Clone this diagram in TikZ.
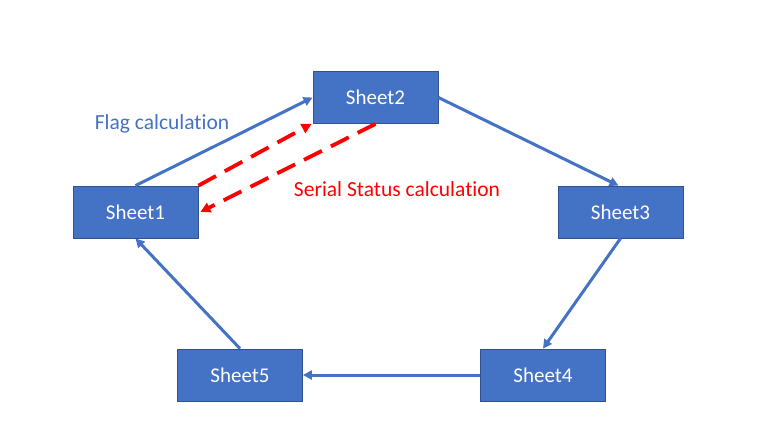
\documentclass[tikz,border=0pt]{standalone}
\usepackage{fontspec}
\setmainfont{Carlito}[RawFeature={-liga;-dlig;-calt}]
\usetikzlibrary{arrows.meta}
\definecolor{boxfill}{HTML}{4472C4}
\definecolor{boxedge}{HTML}{2F528F}
\definecolor{flowblue}{HTML}{4472C4}
\definecolor{flowred}{HTML}{FF0000}
\tikzset{
  sheetbox/.style={rectangle, fill=boxfill, draw=boxedge, line width=0.8pt,
    minimum width=125pt, minimum height=52pt, inner sep=0pt,
    text=white, font=\fontsize{21}{24}\selectfont},
  flow/.style={draw=flowblue, line width=3pt, -{Triangle[length=9pt,width=9pt]}},
  redflow/.style={draw=flowred, line width=3.8pt, dash pattern=on 20pt off 10pt,
    -{Triangle[length=10pt,width=10pt]}},
  lbl/.style={font=\fontsize{21.5}{24}\selectfont, inner sep=0pt}
}
\begin{document}
\begin{tikzpicture}[x=1pt,y=-1pt]
\useasboundingbox (0,0) rectangle (772,437);
\node[sheetbox] (s1) at (135.5,212) {Sheet1};
\node[sheetbox] (s2) at (375.5,97.5) {Sheet2};
\node[sheetbox] (s3) at (620.5,212) {Sheet3};
\node[sheetbox] (s4) at (543,375) {Sheet4};
\node[sheetbox] (s5) at (240,375) {Sheet5};
\draw[flow] (s1.north) -- ([yshift=-0.5pt]s2.west |- 0,97);
\draw[flow] (s2.east) -- ([xshift=-2pt]s3.north);
\draw[flow] (s3.south) -- (s4.north);
\draw[flow] (s4.west) -- (s5.east);
\draw[flow] (s5.north) -- (s1.south);
\draw[redflow] (s1.north east) -- ([xshift=-1pt]s2.south west);
\draw[redflow] (s2.south) -- ([xshift=2pt]s1.east);
\node[lbl, text=flowblue] (flag) at (162,124) {Flag calculation};
\node[lbl, text=flowred] (serial) at (397,189) {Serial Status calculation};
\end{tikzpicture}
\end{document}
